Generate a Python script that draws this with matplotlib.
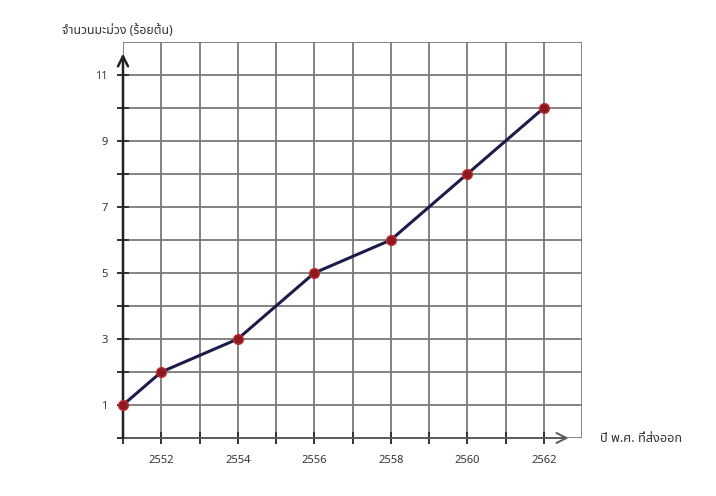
import matplotlib
matplotlib.use("Agg")
import matplotlib.pyplot as plt
from matplotlib import font_manager as fm

# data
years = [2551, 2552, 2554, 2556, 2558, 2560, 2562]
mangoes = [1, 2, 3, 5, 6, 8, 10]
xlabel_text = "ปี พ.ศ. ที่ส่งออก"
ylabel_text = "จำนวนมะม่วง (ร้อยต้น)"
x_ticks = list(range(2551, 2563))
x_ticklabels = [str(y) if y % 2 == 0 else "" for y in x_ticks]
y_ticks = list(range(0, 12))
y_ticklabels = [str(v) if v % 2 == 1 else "" for v in y_ticks]

names = set(f.name for f in fm.fontManager.ttflist)
thai = "DejaVu Sans"
for cand in ["Noto Sans Thai", "Noto Sans Thai Looped", "Sarabun", "Tahoma", "Prompt", "Kanit"]:
    if cand in names:
        thai = cand
        break
plt.rcParams['font.family'] = [thai, 'DejaVu Sans']

fig = plt.figure(figsize=(7.16, 4.96), dpi=100)
ax = fig.add_axes([123 / 716, 58 / 496, 459 / 716, 396 / 496])
ax.set_xlim(2551, 2563)
ax.set_ylim(0, 12)

ax.set_xticks(x_ticks)
ax.set_xticklabels(x_ticklabels)
ax.set_xticks([2563], minor=True)
ax.set_yticks(y_ticks)
ax.set_yticklabels(y_ticklabels)
ax.set_yticks([12], minor=True)
ax.tick_params(which='major', direction='inout', length=8, width=1.4, color='#333333',
               labelsize=8, labelcolor='#333333')
ax.tick_params(axis='x', which='major', pad=8)
ax.tick_params(axis='y', which='major', pad=7)
ax.tick_params(which='minor', length=0)
ax.grid(True, which='both', color='#7a7a7a', linewidth=1.3)
ax.set_axisbelow(True)
for s in ax.spines.values():
    s.set_visible(False)

# axis arrows
ax.annotate("", xy=(2562.65, 0), xytext=(2551, 0),
            arrowprops=dict(arrowstyle='->', color='#5a5a5a', lw=1.4, mutation_scale=18,
                            shrinkA=0, shrinkB=0), annotation_clip=False)
ax.annotate("", xy=(2551, 11.65), xytext=(2551, 0),
            arrowprops=dict(arrowstyle='->', color='#222222', lw=1.8, mutation_scale=18,
                            shrinkA=0, shrinkB=0), annotation_clip=False)

ax.plot(years, mangoes, color='#1c1c4c', lw=2.2, marker='o', markersize=7,
        markerfacecolor='#8a1a20', markeredgecolor='#c02a30', markeredgewidth=1.0,
        zorder=5, clip_on=False)

fig.text(62 / 716, 1 - 30 / 496, ylabel_text, fontsize=8.8, color='#333333',
         fontweight='bold', va='center', ha='left')
fig.text(600 / 716, 1 - 439 / 496, xlabel_text, fontsize=9.2, color='#333333',
         fontweight='bold', va='center', ha='left')

fig.savefig("out.png")
